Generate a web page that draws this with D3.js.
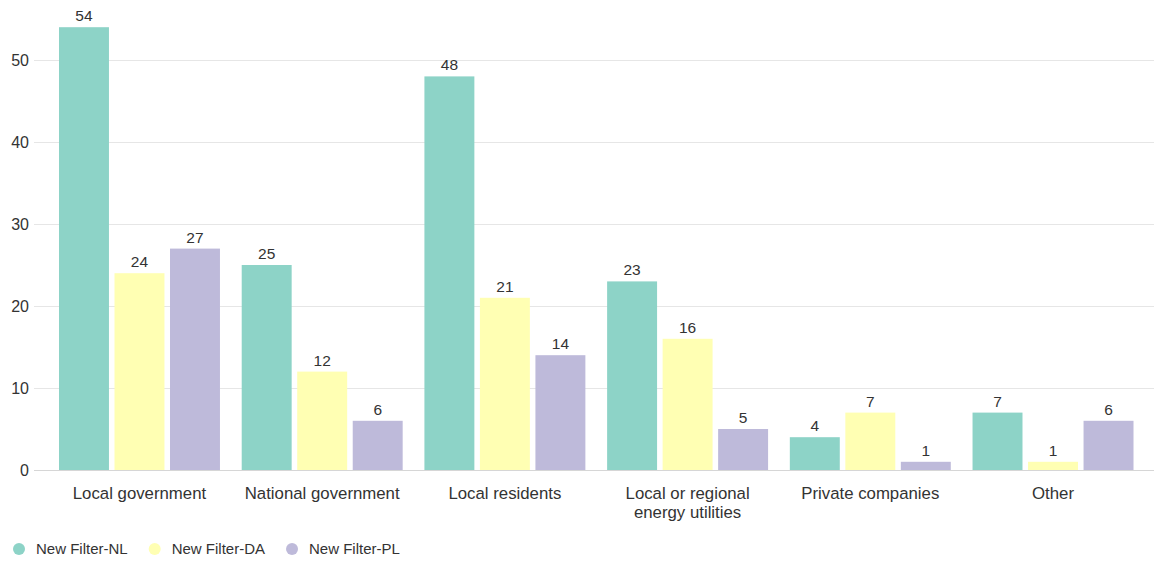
<!DOCTYPE html>
<html>
<head>
<meta charset="utf-8">
<script src="https://cdn.jsdelivr.net/npm/d3@7"></script>
<style>
  body { margin: 0; background: #fff; }
  svg { display: block; font-family: "Liberation Sans", Arial, sans-serif; }
</style>
</head>
<body>
<svg id="chart" width="1154" height="561"></svg>
<script>
// Categories and series
const categories = [
  ["Local government"],
  ["National government"],
  ["Local residents"],
  ["Local or regional", "energy utilities"],
  ["Private companies"],
  ["Other"]
];
const seriesNames = ["New Filter-NL", "New Filter-DA", "New Filter-PL"];
const seriesColors = ["#8dd3c7", "#ffffb3", "#bebada"];
const valuesNL = [54, 25, 48, 23, 4, 7];
const valuesDA = [24, 12, 21, 16, 7, 1];
const valuesPL = [27, 6, 14, 5, 1, 6];
const yTicks = [0, 10, 20, 30, 40, 50];

const series = [valuesNL, valuesDA, valuesPL];
const svg = d3.select("#chart");

const gridLeft = 34, gridRight = 1154;
const x0 = d3.scaleBand().domain(d3.range(categories.length)).range([59, 1133.5]).paddingInner(0.119).paddingOuter(0);
const x1 = d3.scaleBand().domain(d3.range(series.length)).range([0, x0.bandwidth()]).paddingInner(0.1);
const y = d3.scaleLinear().domain([0, 50]).range([470, 60]);

// Gridlines
svg.append("g").selectAll("line").data(yTicks).join("line")
  .attr("x1", gridLeft).attr("x2", gridRight)
  .attr("y1", d => y(d) + 0.5).attr("y2", d => y(d) + 0.5)
  .attr("stroke", d => d === 0 ? "#d6d6d6" : "#e6e6e6").attr("stroke-width", 1);

// Y axis labels
svg.append("g").selectAll("text").data(yTicks).join("text")
  .attr("x", 29).attr("y", d => y(d)).attr("dy", "0.35em")
  .attr("text-anchor", "end").attr("font-size", 16).attr("fill", "#333")
  .text(d => d);

// Bars, value labels and category labels
const groups = svg.append("g").selectAll("g").data(categories).join("g")
  .attr("transform", (d, i) => `translate(${x0(i)},0)`);

groups.each(function(cat, ci) {
  const g = d3.select(this);
  series.forEach((vals, si) => {
    const v = vals[ci];
    g.append("rect")
      .attr("x", x1(si)).attr("width", x1.bandwidth())
      .attr("y", y(v)).attr("height", y(0) - y(v))
      .attr("fill", seriesColors[si]);
    g.append("text")
      .attr("x", x1(si) + x1.bandwidth() / 2).attr("y", y(v) - 6)
      .attr("text-anchor", "middle").attr("font-size", 15.5).attr("fill", "#333")
      .text(v);
  });
  const t = g.append("text")
    .attr("x", x0.bandwidth() / 2).attr("y", 499)
    .attr("text-anchor", "middle").attr("font-size", 16.8).attr("fill", "#333");
  cat.forEach((line, li) => {
    t.append("tspan").attr("x", x0.bandwidth() / 2).attr("dy", li === 0 ? 0 : 19).text(line);
  });
});

// Legend
const legend = svg.append("g").attr("transform", "translate(0,549)");
let lx = 19;
seriesNames.forEach((name, i) => {
  const item = legend.append("g");
  item.append("circle").attr("cx", lx).attr("cy", 0).attr("r", 6).attr("fill", seriesColors[i]);
  const txt = item.append("text").attr("x", lx + 17).attr("y", 0).attr("dy", "0.35em")
    .attr("font-size", 15).attr("fill", "#333").text(name);
  lx += 17 + txt.node().getComputedTextLength() + 27;
});
</script>
</body>
</html>
